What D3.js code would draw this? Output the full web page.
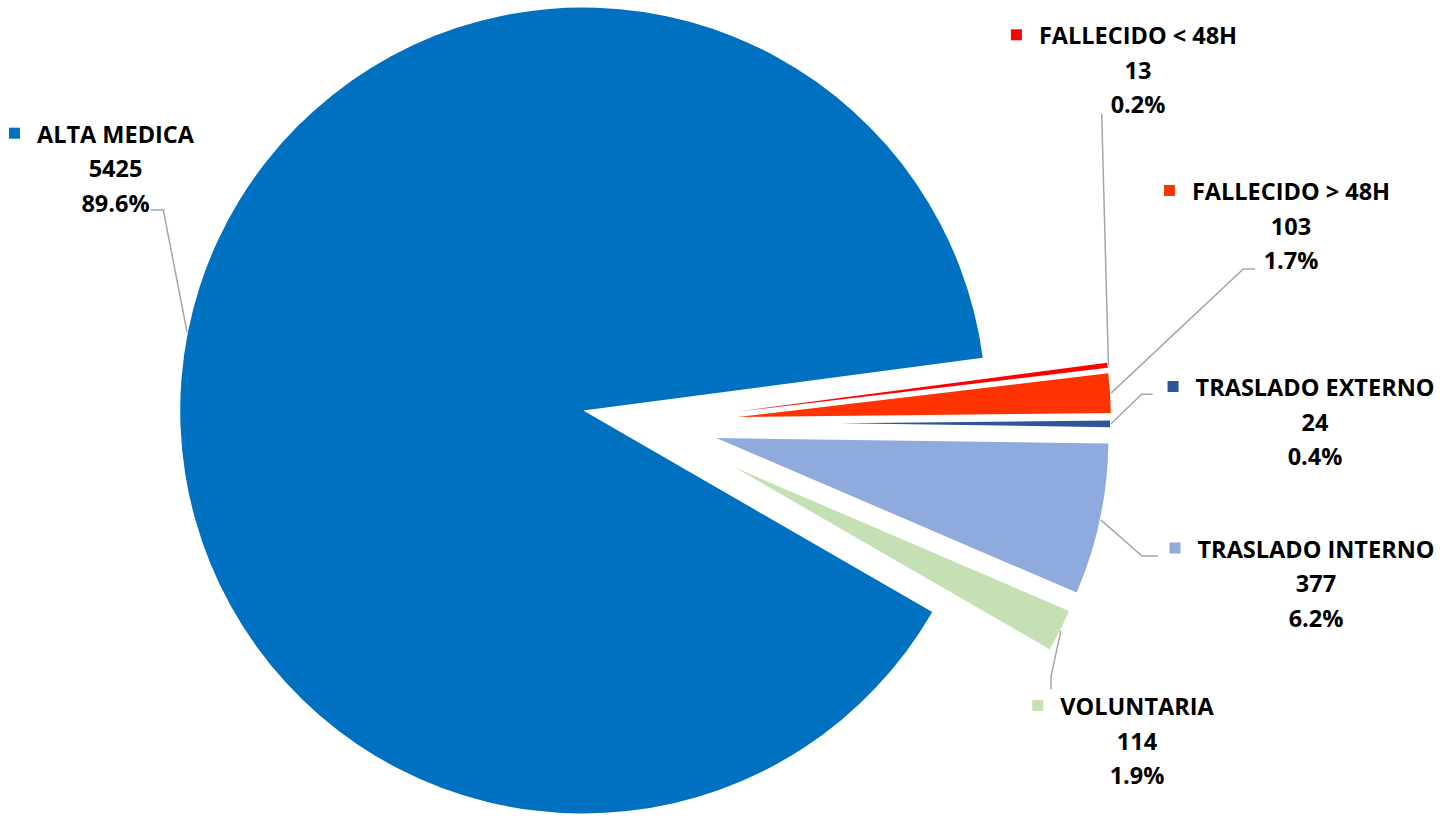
<!DOCTYPE html>
<html>
<head>
<meta charset="utf-8">
<script src="https://cdn.jsdelivr.net/npm/d3@7"></script>
<style>
  body { margin: 0; background: #fff; }
  text { font-family: "Open Sans", sans-serif; font-weight: 700; fill: #000; }
</style>
</head>
<body>
<div id="chart"></div>
<script>
var categories = ["ALTA MEDICA", "FALLECIDO < 48H", "FALLECIDO > 48H", "TRASLADO EXTERNO", "TRASLADO INTERNO", "VOLUNTARIA"];
var values = [5425, 13, 103, 24, 377, 114];
var colors = ["#0070C0", "#FF0000", "#FF3300", "#2F5597", "#8FAADC", "#C5E0B4"];

// layout
var width = 1447, height = 822;
var center = [646, 423];
var firstSliceAngle = 120;
var explode = [64, 92, 92, 194, 72, 99];
var radius = [403, 373, 373, 270, 392, 364];
var fontSize = 23.5, lineGap = 34.5;
// label anchor = centre x of the text, baseline of the first line
var labelPos = [[115.5, 142.7], [1138, 44.3], [1291, 200], [1315, 396], [1316, 557.5], [1137, 715]];
// leader points on the label side
var leaderKnees = [
    [[150.7, 210], [163.3, 210]],
    [[1101.7, 114]],
    [[1255, 269], [1243.3, 269]],
    [[1152.7, 394.3], [1141.7, 394.3]],
    [[1158, 556], [1142, 556]],
    [[1051, 689.3], [1051, 676.7]]
];

var svg = d3.select("#chart")
    .append("svg")
    .attr("width", width)
    .attr("height", height)
    .attr("viewBox", "0 0 " + width + " " + height);

var total = d3.sum(values);
var pct = d3.format(".1%");

var rad = Math.PI / 180;
var pie = d3.pie()
    .sort(null)
    .value(function (d) { return d; })
    .startAngle(firstSliceAngle * rad)
    .endAngle((firstSliceAngle + 360) * rad);

var arcs = pie(values);

function offset(a, dist) {
    var mid = (a.startAngle + a.endAngle) / 2;
    return [dist * Math.sin(mid), -dist * Math.cos(mid)];
}

var slices = svg.append("g").attr("class", "slices");

slices.selectAll("path")
    .data(arcs)
    .enter()
    .append("path")
    .attr("d", function (d, i) {
        return d3.arc().innerRadius(0).outerRadius(radius[i])(d);
    })
    .attr("fill", function (d, i) { return colors[i]; })
    .attr("transform", function (d, i) {
        var o = offset(d, explode[i]);
        return "translate(" + (center[0] + o[0]) + "," + (center[1] + o[1]) + ")";
    });

// leader lines
var line = d3.line();
svg.append("g").attr("class", "leaders")
    .selectAll("path")
    .data(arcs)
    .enter()
    .append("path")
    .attr("d", function (d, i) {
        var o = offset(d, explode[i]);
        var e = offset(d, radius[i] + 1);
        var end = [center[0] + o[0] + e[0], center[1] + o[1] + e[1]];
        return line(leaderKnees[i].concat([end]));
    })
    .attr("fill", "none")
    .attr("stroke", "#A6A6A6")
    .attr("stroke-width", 1.5);

// labels
var labels = svg.append("g").attr("class", "labels")
    .selectAll("g")
    .data(arcs)
    .enter()
    .append("g");

labels.each(function (d, i) {
    var g = d3.select(this);
    var x = labelPos[i][0], y = labelPos[i][1];
    var lines = [categories[i], values[i], pct(values[i] / total)];
    var first;
    lines.forEach(function (t, k) {
        var txt = g.append("text")
            .attr("x", x)
            .attr("y", y + k * lineGap)
            .attr("text-anchor", "middle")
            .style("font-size", fontSize + "px")
            .text(t);
        if (k === 0) first = txt;
    });
    var w = first.node().getComputedTextLength();
    g.append("rect")
        .attr("x", x - w / 2 - 17 - 11)
        .attr("y", y - 9.5 - 5.5)
        .attr("width", 11)
        .attr("height", 11)
        .attr("fill", colors[i]);
});
</script>
</body>
</html>
